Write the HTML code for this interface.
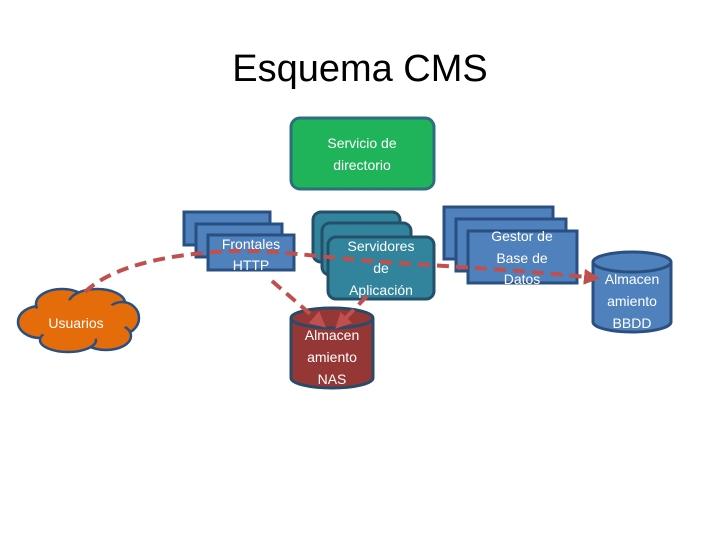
<!DOCTYPE html>
<html><head><meta charset="utf-8"><style>
html,body{margin:0;padding:0;background:#fff;}
svg{display:block;font-family:"Liberation Sans","DejaVu Sans",sans-serif;}
</style></head><body>
<svg width="720" height="540" viewBox="0 0 720 540" xmlns="http://www.w3.org/2000/svg">
<defs>
<marker id="ah" markerWidth="4" markerHeight="4" refX="3" refY="2" orient="auto" markerUnits="strokeWidth">
<path d="M0,0 L4,2 L0,4 z" fill="#c0504d"/></marker>
</defs>
<text x="360" y="81" font-size="38" text-anchor="middle" fill="#000">Esquema CMS</text>

<rect x="291" y="118" width="143" height="71" rx="9" fill="#1fb35a" stroke="#2e6e80" stroke-width="3"/>
<text x="362" y="148" font-size="14" fill="#fff" text-anchor="middle">Servicio de</text>
<text x="362" y="170" font-size="14" fill="#fff" text-anchor="middle">directorio</text>

<g fill="#4f81bd" stroke="#2a5082" stroke-width="3">
<rect x="184" y="212" width="86" height="33"/>
<rect x="196" y="224" width="86" height="33"/>
<rect x="208" y="235" width="86" height="35"/>
</g>
<text x="251" y="249" font-size="14" fill="#fff" text-anchor="middle">Frontales</text>
<text x="251" y="270" font-size="14" fill="#fff" text-anchor="middle">HTTP</text>

<g fill="#31849b" stroke="#24506a" stroke-width="3">
<rect x="313" y="212" width="87" height="50" rx="8"/>
<rect x="322" y="223" width="89" height="52" rx="8"/>
<rect x="328" y="237" width="106" height="62" rx="8"/>
</g>
<text x="381" y="251" font-size="14" fill="#fff" text-anchor="middle">Servidores</text>
<text x="381" y="273" font-size="14" fill="#fff" text-anchor="middle">de</text>
<text x="381" y="295" font-size="14" fill="#fff" text-anchor="middle">Aplicación</text>

<g fill="#4f81bd" stroke="#2a5082" stroke-width="3">
<rect x="444" y="207" width="109" height="52"/>
<rect x="456" y="219" width="110" height="52"/>
<rect x="468" y="231" width="109" height="52"/>
</g>
<text x="522" y="241" font-size="14" fill="#fff" text-anchor="middle">Gestor de</text>
<text x="522" y="263" font-size="14" fill="#fff" text-anchor="middle">Base de</text>
<text x="522" y="284" font-size="14" fill="#fff" text-anchor="middle">Datos</text>

<path d="M291,318 L291,378 A41,10 0 0 0 373,378 L373,318" fill="#953735" stroke="#2a4a6a" stroke-width="3"/>
<ellipse cx="332" cy="318" rx="41" ry="10" fill="#953735" stroke="#2a4a6a" stroke-width="3"/>
<text x="332" y="340" font-size="14" fill="#fff" text-anchor="middle">Almacen</text>
<text x="332" y="362" font-size="14" fill="#fff" text-anchor="middle">amiento</text>
<text x="332" y="384" font-size="14" fill="#fff" text-anchor="middle">NAS</text>

<path d="M593,262 L593,322 A39,10 0 0 0 671,322 L671,262" fill="#4f81bd" stroke="#2a5082" stroke-width="3"/>
<ellipse cx="632" cy="262" rx="39" ry="10" fill="#4f81bd" stroke="#2a5082" stroke-width="3"/>
<text x="632" y="284" font-size="14" fill="#fff" text-anchor="middle">Almacen</text>
<text x="632" y="306" font-size="14" fill="#fff" text-anchor="middle">amiento</text>
<text x="632" y="328" font-size="14" fill="#fff" text-anchor="middle">BBDD</text>

<g fill="#e46c0a" stroke="#2a5082" stroke-width="2.5">
<ellipse cx="40" cy="322" rx="22" ry="16"/>
<ellipse cx="62" cy="304" rx="26" ry="15"/>
<ellipse cx="97" cy="303" rx="28" ry="14"/>
<ellipse cx="122" cy="318" rx="17" ry="16"/>
<ellipse cx="106" cy="336" rx="25" ry="14"/>
<ellipse cx="68" cy="340" rx="28" ry="12"/>
<ellipse cx="78" cy="320" rx="50" ry="20" stroke="none"/>
</g>
<text x="76" y="328" font-size="14" fill="#fff" text-anchor="middle">Usuarios</text>

<g fill="none" stroke="#c0504d" stroke-width="4" stroke-dasharray="12,7">
<path d="M85,292 C110,268 160,256 215,252 C260,248 300,255 360,260 C430,266 500,268 596,278" marker-end="url(#ah)"/>
<path d="M272,281 L323,325" marker-end="url(#ah)"/>
<path d="M367,296 L338,326" marker-end="url(#ah)"/>
</g>
</svg>
</body></html>
